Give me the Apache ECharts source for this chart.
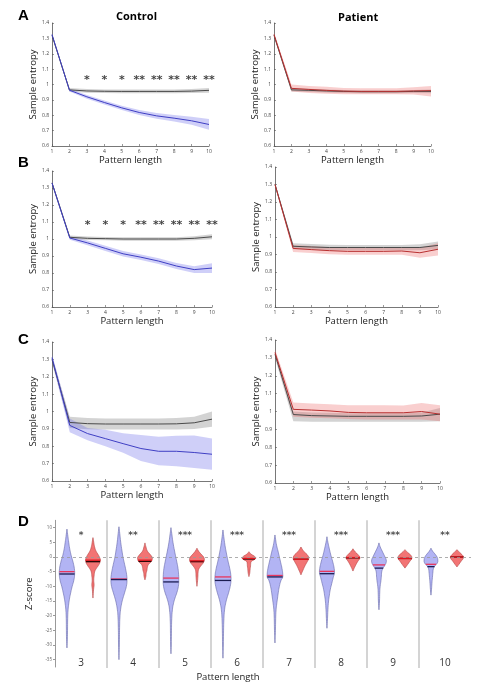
<!DOCTYPE html>
<html><head><meta charset="utf-8">
<script src="https://cdn.jsdelivr.net/npm/echarts@6/dist/echarts.min.js"></script>
<style>html,body{margin:0;padding:0;background:#fff}#c{width:489px;height:686px}</style>
</head><body><div id="c"></div><script>
// ---------- DATA ----------
const patternLengths = ['1','2','3','4','5','6','7','8','9','10'];
const yTicks = [0.6,0.7,0.8,0.9,1,1.1,1.2,1.3,1.4];

// Panel A - Control
const A_ctrl_gray_mean = [1.32,0.965,0.958,0.956,0.955,0.955,0.955,0.955,0.957,0.962];
const A_ctrl_gray_lo   = [1.31,0.955,0.946,0.944,0.943,0.943,0.943,0.943,0.944,0.947];
const A_ctrl_gray_hi   = [1.33,0.978,0.970,0.968,0.967,0.967,0.967,0.967,0.970,0.977];
const A_ctrl_blue_mean = [1.325,0.963,0.920,0.883,0.848,0.818,0.796,0.781,0.764,0.740];
const A_ctrl_blue_lo   = [1.315,0.955,0.908,0.870,0.834,0.802,0.778,0.760,0.738,0.705];
const A_ctrl_blue_hi   = [1.335,0.972,0.932,0.896,0.862,0.834,0.814,0.802,0.790,0.775];
const A_stars = ['','','*','*','*','**','**','**','**','**'];
const A_starLevel = 1.027;
// Panel A - Patient
const A_pat_gray_mean = [1.32,0.965,0.962,0.958,0.955,0.953,0.953,0.953,0.955,0.955];
const A_pat_gray_lo   = [1.31,0.955,0.952,0.948,0.945,0.943,0.943,0.943,0.945,0.943];
const A_pat_gray_hi   = [1.33,0.975,0.972,0.968,0.965,0.963,0.963,0.963,0.965,0.967];
const A_pat_red_mean  = [1.325,0.975,0.968,0.962,0.957,0.955,0.955,0.955,0.958,0.960];
const A_pat_red_lo    = [1.31,0.955,0.945,0.940,0.937,0.936,0.936,0.937,0.935,0.922];
const A_pat_red_hi    = [1.34,1.000,0.990,0.985,0.978,0.975,0.975,0.975,0.982,0.990];

// Panel B - Control
const B_ctrl_gray_mean = [1.33,1.010,1.004,1.002,1.000,1.000,1.000,1.000,1.004,1.013];
const B_ctrl_gray_lo   = [1.32,1.000,0.994,0.992,0.990,0.990,0.990,0.990,0.992,0.998];
const B_ctrl_gray_hi   = [1.34,1.020,1.014,1.012,1.010,1.010,1.010,1.010,1.016,1.028];
const B_ctrl_blue_mean = [1.329,1.006,0.977,0.945,0.913,0.893,0.870,0.841,0.820,0.829];
const B_ctrl_blue_lo   = [1.319,0.996,0.963,0.930,0.897,0.877,0.853,0.823,0.800,0.800];
const B_ctrl_blue_hi   = [1.339,1.016,0.991,0.960,0.929,0.909,0.887,0.859,0.840,0.858];
const B_stars = ['','','*','*','*','**','**','**','**','**'];
const B_starLevel = 1.081;
// Panel B - Patient
const B_pat_gray_mean = [1.30,0.947,0.943,0.940,0.940,0.940,0.940,0.940,0.940,0.952];
const B_pat_gray_lo   = [1.29,0.930,0.927,0.925,0.925,0.925,0.925,0.925,0.925,0.930];
const B_pat_gray_hi   = [1.31,0.965,0.960,0.956,0.955,0.955,0.955,0.955,0.958,0.975];
const B_pat_red_mean  = [1.30,0.935,0.928,0.922,0.918,0.918,0.918,0.920,0.910,0.930];
const B_pat_red_lo    = [1.29,0.915,0.908,0.902,0.898,0.898,0.898,0.898,0.882,0.895];
const B_pat_red_hi    = [1.31,0.955,0.948,0.942,0.938,0.938,0.938,0.942,0.938,0.965];

// Panel C - Control
const C_ctrl_gray_mean = [1.30,0.937,0.930,0.928,0.928,0.928,0.928,0.929,0.935,0.956];
const C_ctrl_gray_lo   = [1.28,0.905,0.898,0.896,0.896,0.896,0.896,0.896,0.900,0.912];
const C_ctrl_gray_hi   = [1.32,0.970,0.962,0.960,0.960,0.960,0.960,0.962,0.970,1.000];
const C_ctrl_blue_mean = [1.31,0.920,0.873,0.844,0.815,0.787,0.771,0.771,0.764,0.754];
const C_ctrl_blue_lo   = [1.29,0.880,0.834,0.800,0.762,0.715,0.690,0.685,0.675,0.665];
const C_ctrl_blue_hi   = [1.33,0.960,0.905,0.895,0.875,0.865,0.855,0.860,0.862,0.845];
// Panel C - Patient
const C_pat_gray_mean = [1.32,0.983,0.977,0.975,0.973,0.973,0.973,0.973,0.975,0.985];
const C_pat_gray_lo   = [1.30,0.945,0.943,0.942,0.942,0.942,0.942,0.942,0.942,0.945];
const C_pat_gray_hi   = [1.34,1.000,0.995,0.993,0.990,0.990,0.990,0.990,0.995,1.020];
const C_pat_red_mean  = [1.33,1.012,1.008,1.003,0.995,0.993,0.993,0.993,1.000,0.985];
const C_pat_red_lo    = [1.31,0.970,0.965,0.962,0.958,0.955,0.955,0.955,0.955,0.945];
const C_pat_red_hi    = [1.35,1.050,1.045,1.040,1.035,1.035,1.035,1.033,1.048,1.035];

// Panel D - violins (z, relative density)
const D_categories = ['3','4','5','6','7','8','9','10'];
const D_zTicks = [10,5,0,-5,-10,-15,-20,-25,-30,-35];
const D_stars = ['*','**','***','***','***','***','***','**'];
const D_starLevel = 7.3;
const D_ctrl_profiles = [
  [[9.5,0],[7,0.12],[5,0.22],[3,0.33],[1,0.48],[0,0.58],[-2,0.78],[-4,0.92],[-6,0.95],[-8,0.85],[-10,0.65],[-12,0.48],[-14,0.33],[-16,0.22],[-18,0.14],[-21,0.09],[-25,0.07],[-28,0.05],[-31,0]],
  [[10.3,0],[8,0.1],[5,0.22],[2,0.38],[0,0.5],[-2,0.66],[-4,0.82],[-6,0.95],[-8,1.0],[-10,0.92],[-12,0.72],[-14,0.5],[-16,0.32],[-18,0.2],[-20,0.13],[-24,0.08],[-30,0.05],[-35,0]],
  [[10,0],[8,0.1],[5,0.25],[2,0.45],[0,0.6],[-2,0.75],[-4,0.88],[-6,0.95],[-8,0.97],[-10,0.92],[-12,0.75],[-14,0.5],[-16,0.3],[-18,0.18],[-21,0.1],[-26,0.06],[-30,0.04],[-33,0]],
  [[9.2,0],[7,0.1],[4,0.25],[2,0.38],[0,0.52],[-2,0.68],[-4,0.85],[-6,0.97],[-8,1.0],[-10,0.9],[-12,0.72],[-14,0.5],[-16,0.32],[-18,0.2],[-21,0.12],[-26,0.07],[-30,0.05],[-34.5,0]],
  [[7.5,0],[6,0.08],[4,0.2],[2,0.38],[0,0.55],[-2,0.72],[-4,0.88],[-6,0.97],[-7,0.95],[-8,0.75],[-10,0.55],[-12,0.42],[-14,0.32],[-16,0.22],[-18,0.14],[-21,0.09],[-25,0.06],[-29.3,0]],
  [[6.9,0],[5,0.12],[3,0.28],[1,0.45],[0,0.55],[-2,0.75],[-4,0.9],[-5.5,0.92],[-7,0.78],[-9,0.6],[-11,0.42],[-13,0.3],[-15,0.2],[-18,0.12],[-21,0.07],[-24.3,0]],
  [[4.8,0],[3.5,0.15],[2,0.4],[0,0.75],[-1,0.9],[-2,0.88],[-3,0.7],[-4,0.48],[-5,0.35],[-6.5,0.3],[-8,0.25],[-10,0.15],[-12,0.1],[-15,0.07],[-18,0]],
  [[3,0],[2,0.2],[1,0.5],[0,0.75],[-1,0.85],[-2,0.8],[-3,0.5],[-4,0.3],[-5,0.25],[-7,0.18],[-9,0.12],[-11,0.07],[-13,0]]
];
const D_pat_profiles = [
  [[6.6,0],[5,0.1],[3.5,0.2],[2,0.38],[1,0.6],[0,0.8],[-1,0.92],[-2,0.85],[-3,0.65],[-4,0.4],[-5,0.22],[-6.5,0.14],[-8,0.1],[-9.5,0.14],[-11,0.08],[-14,0]],
  [[4.8,0],[3.5,0.12],[2,0.3],[1,0.6],[0,0.88],[-0.5,0.92],[-1.5,0.8],[-2.5,0.45],[-3.5,0.3],[-4.5,0.25],[-5.5,0.15],[-6.5,0.12],[-7.8,0]],
  [[3,0],[2,0.2],[1,0.5],[0,0.82],[-1,0.92],[-2,0.78],[-3,0.5],[-4,0.25],[-5,0.15],[-6.5,0.12],[-8,0.08],[-10,0]],
  [[1.8,0],[1,0.25],[0.2,0.7],[-0.4,0.85],[-1,0.6],[-1.5,0.3],[-2.2,0.22],[-3,0.2],[-4,0.15],[-5.5,0.1],[-6.7,0]],
  [[3.4,0],[2.5,0.2],[1.5,0.5],[0.5,0.85],[-0.5,0.97],[-1.5,0.8],[-3,0.5],[-4.5,0.25],[-6.1,0]],
  [[2.8,0],[2,0.2],[1,0.55],[0,0.85],[-0.5,0.85],[-1.5,0.6],[-3,0.3],[-4.8,0]],
  [[2.5,0],[1.5,0.35],[0.5,0.75],[-0.5,0.85],[-1.5,0.6],[-2.5,0.35],[-3.8,0]],
  [[2.5,0],[1.5,0.35],[0.5,0.72],[0,0.8],[-0.5,0.78],[-1.5,0.5],[-2.5,0.25],[-3.4,0]]
];
const D_ctrl_mean   = [-5.0,-7.5,-7.2,-6.8,-6.3,-4.9,-2.7,-2.5];
const D_ctrl_median = [-5.8,-7.7,-8.5,-8.0,-6.8,-5.7,-3.8,-3.3];
const D_pat_mean    = [-1.1,-1.1,-1.3,-0.5,-0.8,-0.2,-0.5,0.0];
const D_pat_median  = [-1.6,-1.5,-1.6,-0.7,-0.8,-0.3,-0.5,0.0];

// ---------- STYLE ----------
const FONT = 'Open Sans';
const BLUE = '#3f3fc4', BLUE_BAND = 'rgba(110,110,235,0.33)';
const RED = '#b83030', RED_BAND = 'rgba(235,95,95,0.30)';
const GRAY = '#4a4a4a', GRAY_BAND = 'rgba(110,110,110,0.30)';

const grids = [
  {left:52, top:23, width:157, height:123},
  {left:274, top:23, width:157, height:123},
  {left:52, top:171, width:160, height:136},
  {left:275, top:167, width:163, height:140},
  {left:52, top:342, width:160, height:139},
  {left:275, top:340, width:165, height:143},
  {left:55, top:520.3, width:416, height:146.7}
];

const xAxes = [], yAxes = [];
for (let g = 0; g < 6; g++) {
  xAxes.push({type:'category', gridIndex:g, data:patternLengths, boundaryGap:false,
    name:'Pattern length', nameLocation:'middle', nameGap:8,
    nameTextStyle:{fontFamily:FONT, fontSize:9.5, color:'#222'},
    axisLine:{lineStyle:{color:'#555', width:0.8}},
    axisTick:{inside:true, length:2, lineStyle:{color:'#555', width:0.6}},
    axisLabel:{fontSize:5, color:'#444', margin:3, fontFamily:FONT}});
  yAxes.push({type:'value', gridIndex:g, min:yTicks[0], max:yTicks[yTicks.length-1], interval:0.1,
    name:'Sample entropy', nameLocation:'middle', nameGap:14,
    nameTextStyle:{fontFamily:FONT, fontSize:9.5, color:'#222'},
    axisLine:{show:true, lineStyle:{color:'#555', width:0.8}},
    axisTick:{show:true, inside:true, length:2, lineStyle:{color:'#555', width:0.6}},
    splitLine:{show:false},
    axisLabel:{fontSize:5, color:'#444', margin:3, fontFamily:FONT,
      formatter: v => String(Math.round(v*10)/10)}});
}
xAxes.push({type:'category', gridIndex:6, data:D_categories,
  name:'Pattern length', nameLocation:'middle', nameGap:5,
  nameTextStyle:{fontFamily:FONT, fontSize:9.5, color:'#222', padding:[0,70,0,0]},
  axisLine:{show:false}, axisTick:{show:false},
  axisLabel:{inside:true, margin:-1, fontSize:10, color:'#333', fontFamily:FONT}});
yAxes.push({type:'value', gridIndex:6, min:-37.5, max:12.5,
  name:'Z-score', nameLocation:'middle', nameGap:15,
  nameTextStyle:{fontFamily:FONT, fontSize:9.5, color:'#222'},
  axisLine:{show:true, lineStyle:{color:'#999', width:1}},
  axisTick:{show:true, length:2, customValues:D_zTicks, lineStyle:{color:'#999'}},
  splitLine:{show:false},
  axisLabel:{fontSize:4.5, color:'#666', margin:3, customValues:D_zTicks, fontFamily:FONT}});

const series = [];
function band(g, lo, hi, color, id) {
  series.push({type:'line', xAxisIndex:g, yAxisIndex:g, data:lo, stack:id, symbol:'none',
    lineStyle:{opacity:0}, silent:true, z:1});
  series.push({type:'line', xAxisIndex:g, yAxisIndex:g, data:hi.map((h,i)=>+(h-lo[i]).toFixed(4)), stack:id,
    symbol:'none', lineStyle:{opacity:0}, areaStyle:{color:color, opacity:1}, silent:true, z:1});
}
function line(g, data, color) {
  series.push({type:'line', xAxisIndex:g, yAxisIndex:g, data:data, symbol:'none',
    lineStyle:{color:color, width:1}, z:3});
}
function stars(g, labels, level) {
  series.push({type:'scatter', xAxisIndex:g, yAxisIndex:g, symbolSize:0,
    data: labels.map((s,i)=>[i, level]).filter((d,i)=>labels[i]),
    label:{show:true, position:'inside', formatter:p=>labels[p.data[0]],
      fontSize:11, fontWeight:'bold', color:'#111', fontFamily:'DejaVu Sans'}, z:5});
}
const panels = [
  [0, A_ctrl_gray_lo, A_ctrl_gray_hi, A_ctrl_gray_mean, A_ctrl_blue_lo, A_ctrl_blue_hi, A_ctrl_blue_mean, BLUE, BLUE_BAND],
  [1, A_pat_gray_lo, A_pat_gray_hi, A_pat_gray_mean, A_pat_red_lo, A_pat_red_hi, A_pat_red_mean, RED, RED_BAND],
  [2, B_ctrl_gray_lo, B_ctrl_gray_hi, B_ctrl_gray_mean, B_ctrl_blue_lo, B_ctrl_blue_hi, B_ctrl_blue_mean, BLUE, BLUE_BAND],
  [3, B_pat_gray_lo, B_pat_gray_hi, B_pat_gray_mean, B_pat_red_lo, B_pat_red_hi, B_pat_red_mean, RED, RED_BAND],
  [4, C_ctrl_gray_lo, C_ctrl_gray_hi, C_ctrl_gray_mean, C_ctrl_blue_lo, C_ctrl_blue_hi, C_ctrl_blue_mean, BLUE, BLUE_BAND],
  [5, C_pat_gray_lo, C_pat_gray_hi, C_pat_gray_mean, C_pat_red_lo, C_pat_red_hi, C_pat_red_mean, RED, RED_BAND]
];
panels.forEach(p => {
  const [g, glo, ghi, gm, clo, chi, cm, col, colBand] = p;
  band(g, glo, ghi, GRAY_BAND, 'gray'+g);
  band(g, clo, chi, colBand, 'col'+g);
  line(g, gm, GRAY);
  line(g, cm, col);
});
stars(0, A_stars, A_starLevel);
stars(2, B_stars, B_starLevel);

// ---- Panel D ----
const HALF = 0.155;
function widthAt(prof, z) {
  for (let k = 0; k < prof.length-1; k++) {
    const [z1,w1] = prof[k], [z2,w2] = prof[k+1];
    if (z <= z1 && z >= z2) return w1 + (w2-w1)*(z1-z)/(z1-z2);
  }
  return 0;
}
function violin(profiles, offset, fill, stroke, lines) {
  return function(params, api) {
    const i = api.value(0);
    const prof = profiles[i];
    const bandW = api.size([1,0])[0];
    const cx = api.coord([i,0])[0] + offset*bandW;
    const right = [], left = [];
    prof.forEach(([z,w]) => {
      const y = api.coord([i,z])[1];
      right.push([cx + w*HALF*bandW, y]);
      left.push([cx - w*HALF*bandW, y]);
    });
    const pts = right.concat(left.reverse());
    const children = [{type:'polygon', shape:{points:pts, smooth:0.5},
      style:{fill:fill, stroke:stroke, lineWidth:0.6}}];
    lines.forEach(([arr, color]) => {
      const z = arr[i];
      const y = api.coord([i,z])[1];
      const hw = widthAt(prof, z)*HALF*bandW;
      children.push({type:'line', shape:{x1:cx-hw, y1:y, x2:cx+hw, y2:y},
        style:{stroke:color, lineWidth:1.3}});
    });
    return {type:'group', children};
  };
}
series.push({type:'custom', xAxisIndex:6, yAxisIndex:6, clip:false, silent:true, z:1,
  data: D_categories.slice(1).map((c,k)=>[k+1, 0]),
  renderItem:(params, api) => {
    const i = api.value(0);
    const bandW = api.size([1,0])[0];
    const x = api.coord([i,0])[0] - bandW/2;
    return {type:'line', shape:{x1:x, y1:api.coord([i,12.5])[1], x2:x, y2:api.coord([i,-37.5])[1]+1},
      style:{stroke:'#bdbdbd', lineWidth:1.3}};
  }});
series.push({type:'custom', xAxisIndex:6, yAxisIndex:6, clip:false, z:3,
  data: D_categories.map((c,i)=>[i,0]),
  renderItem: violin(D_ctrl_profiles, -0.27, '#b2b4f4', '#6466a8',
    [[D_ctrl_mean,'#e8365e'],[D_ctrl_median,'#1c1c52']]),
  markLine:{silent:true, symbol:'none', label:{show:false},
    lineStyle:{color:'#999', type:[3,3], width:0.8},
    data:[{yAxis:0}]}});
series.push({type:'custom', xAxisIndex:6, yAxisIndex:6, clip:false, z:3,
  data: D_categories.map((c,i)=>[i,0]),
  renderItem: violin(D_pat_profiles, 0.23, '#f27474', '#b54545',
    [[D_pat_median,'#2a0808'],[D_pat_mean,'#e0141e']])});
series.push({type:'scatter', xAxisIndex:6, yAxisIndex:6, symbolSize:0,
  data: D_categories.map((c,i)=>[i, D_starLevel]),
  label:{show:true, position:'inside', formatter:p=>D_stars[p.dataIndex],
    fontSize:9, fontWeight:'bold', color:'#222', fontFamily:'DejaVu Sans'}, z:5});

const letterStyle = {fontSize:15, fontWeight:'bold', color:'#000', fontFamily:'Liberation Sans'};
const titles = [
  {text:'A', left:18, top:8, textStyle:letterStyle},
  {text:'B', left:18, top:155, textStyle:letterStyle},
  {text:'C', left:18, top:332, textStyle:letterStyle},
  {text:'D', left:18, top:514, textStyle:letterStyle},
  {text:'Control', left:116, top:11, textStyle:{fontSize:11, fontWeight:'bold', color:'#000', fontFamily:FONT}},
  {text:'Patient', left:338, top:12, textStyle:{fontSize:11, fontWeight:'bold', color:'#000', fontFamily:FONT}}
];
titles.forEach(t => { t.padding = 0; });

const chart = echarts.init(document.getElementById('c'), null, {renderer:'canvas'});
chart.setOption({animation:false, backgroundColor:'#fff', title:titles, grid:grids,
  xAxis:xAxes, yAxis:yAxes, series:series});
</script></body></html>
